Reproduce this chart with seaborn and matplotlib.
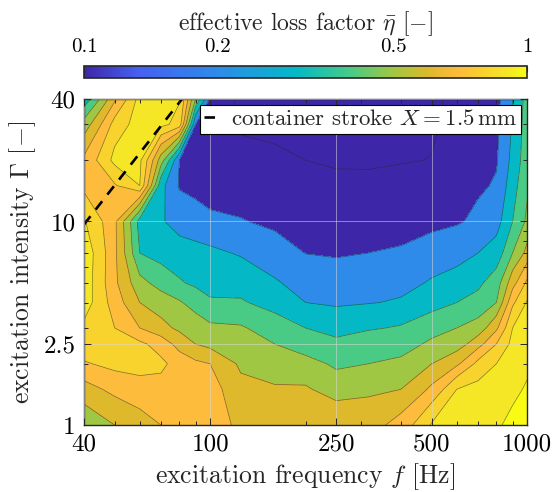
import numpy as np
import matplotlib
matplotlib.use("Agg")
import matplotlib.pyplot as plt
import seaborn as sns
from matplotlib.colors import LinearSegmentedColormap, LogNorm
from matplotlib.cm import ScalarMappable
from matplotlib.ticker import FixedLocator, NullFormatter, LogLocator

# measurement grid
freq = [40, 50, 60, 70, 80, 90, 100, 125, 160, 200, 250, 315, 400, 500, 600, 700, 800, 900, 1000]
gamma = [1, 1.5, 2, 2.5, 3, 4, 5, 7, 10, 15, 20, 30, 40]

# effective loss factor, one list per frequency (gamma from 1 up to 40)
eta_f40 = [0.53, 0.66, 0.79, 0.86, 0.88, 0.95, 0.96, 0.97, 0.91, 0.77, 0.72, 0.54, 0.33]
eta_f50 = [0.60, 0.73, 0.83, 0.85, 0.80, 0.75, 0.72, 0.72, 0.72, 0.79, 0.93, 0.84, 0.68]
eta_f60 = [0.66, 0.76, 0.84, 0.82, 0.70, 0.60, 0.53, 0.40, 0.36, 0.90, 0.92, 0.95, 0.94]
eta_f70 = [0.70, 0.77, 0.82, 0.76, 0.63, 0.55, 0.46, 0.36, 0.31, 0.33, 0.55, 0.93, 0.95]
eta_f80 = [0.73, 0.76, 0.76, 0.66, 0.58, 0.51, 0.41, 0.34, 0.26, 0.19, 0.20, 0.86, 0.91]
eta_f90 = [0.74, 0.75, 0.72, 0.60, 0.55, 0.46, 0.38, 0.33, 0.24, 0.17, 0.15, 0.20, 0.50]
eta_f100 = [0.74, 0.74, 0.70, 0.57, 0.52, 0.41, 0.37, 0.32, 0.22, 0.15, 0.12, 0.11, 0.19]
eta_f125 = [0.68, 0.63, 0.58, 0.54, 0.51, 0.41, 0.36, 0.29, 0.205, 0.15, 0.12, 0.09, 0.08]
eta_f160 = [0.66, 0.61, 0.55, 0.50, 0.45, 0.36, 0.31, 0.24, 0.18, 0.14, 0.11, 0.085, 0.07]
eta_f200 = [0.66, 0.61, 0.54, 0.44, 0.40, 0.30, 0.26, 0.198, 0.16, 0.125, 0.10, 0.075, 0.07]
eta_f250 = [0.67, 0.56, 0.48, 0.42, 0.37, 0.285, 0.245, 0.19, 0.155, 0.117, 0.09, 0.07, 0.07]
eta_f315 = [0.66, 0.58, 0.50, 0.45, 0.39, 0.295, 0.26, 0.20, 0.155, 0.115, 0.09, 0.07, 0.07]
eta_f400 = [0.74, 0.60, 0.52, 0.46, 0.41, 0.31, 0.27, 0.21, 0.16, 0.125, 0.095, 0.08, 0.08]
eta_f500 = [0.91, 0.72, 0.60, 0.52, 0.46, 0.36, 0.31, 0.24, 0.175, 0.13, 0.102, 0.088, 0.085]
eta_f600 = [0.95, 0.90, 0.68, 0.55, 0.50, 0.40, 0.34, 0.26, 0.19, 0.16, 0.14, 0.13, 0.12]
eta_f700 = [0.96, 0.93, 0.83, 0.66, 0.54, 0.43, 0.38, 0.30, 0.22, 0.185, 0.17, 0.15, 0.14]
eta_f800 = [0.99, 0.95, 0.90, 0.80, 0.68, 0.50, 0.45, 0.34, 0.26, 0.21, 0.19, 0.18, 0.17]
eta_f900 = [1.02, 0.98, 0.95, 0.93, 0.90, 0.78, 0.66, 0.50, 0.40, 0.36, 0.33, 0.31, 0.30]
eta_f1000 = [1.06, 1.01, 0.98, 0.96, 0.94, 0.91, 0.82, 0.63, 0.52, 0.48, 0.46, 0.45, 0.44]

# container stroke line X = 1.5 mm (end points)
stroke_f = [40, 81.6]
stroke_gamma = [9.66, 40]

cbar_ticks = [0.1, 0.2, 0.5, 1]
cbar_ticklabels = ["0.1", "0.2", "0.5", "1"]
cbar_minor = [0.3, 0.4, 0.6, 0.7, 0.8, 0.9]
x_ticks = [40, 100, 250, 500, 1000]
y_ticks = [1, 2.5, 10, 40]

sns.set_style("ticks")
plt.rcParams.update({
    "font.family": ["cmr10"],
    "mathtext.fontset": "cm",
    "axes.formatter.use_mathtext": True,
    "axes.unicode_minus": False,
})

# parula-like map, anchored on the log positions of 0.1 ... 1
parula = LinearSegmentedColormap.from_list("parula_like", [
    (0.000, "#3E26A8"),
    (0.120, "#4660F0"),
    (0.301, "#2E8BEA"),
    (0.477, "#03B9C6"),
    (0.602, "#48CB86"),
    (0.699, "#A1C742"),
    (0.778, "#DDB92B"),
    (0.845, "#FDBB3C"),
    (0.903, "#F8D12D"),
    (0.954, "#F5E626"),
    (1.000, "#F9FB14"),
])
norm = LogNorm(vmin=0.1, vmax=1.0)

eta = np.column_stack([eta_f40, eta_f50, eta_f60, eta_f70, eta_f80, eta_f90, eta_f100,
                       eta_f125, eta_f160, eta_f200, eta_f250, eta_f315, eta_f400,
                       eta_f500, eta_f600, eta_f700, eta_f800, eta_f900, eta_f1000])
F, G = np.meshgrid(freq, gamma)

line_levels = [0.1, 0.2, 0.3, 0.4, 0.5, 0.6, 0.7, 0.8, 0.9, 1.0]
fill_levels = [0.0] + line_levels + [2.0]
band_colors = [parula(0.0)] + [parula(norm(v)) for v in line_levels]

fig = plt.figure(figsize=(5.56, 4.92), dpi=100)
ax = fig.add_axes([0.151, 0.136, 0.797, 0.663])
cax = fig.add_axes([0.151, 0.8415, 0.797, 0.0244])

ax.contourf(F, G, eta, levels=fill_levels, colors=band_colors)
ax.contour(F, G, eta, levels=line_levels, colors="0.15", linewidths=0.5, alpha=0.6)

sns.lineplot(x=stroke_f, y=stroke_gamma, ax=ax, color="k", linewidth=1.9,
             linestyle=(0, (4, 3.2)), legend=False)

ax.set_xscale("log")
ax.set_yscale("log")
ax.set_xlim(40, 1000)
ax.set_ylim(1, 40)
ax.set_xticks(x_ticks, [str(t) for t in x_ticks])
ax.set_yticks(y_ticks, ["1", "2.5", "10", "40"])
ax.xaxis.set_minor_locator(LogLocator(subs=np.arange(2, 10)))
ax.yaxis.set_minor_locator(LogLocator(subs=np.arange(2, 10)))
ax.xaxis.set_minor_formatter(NullFormatter())
ax.yaxis.set_minor_formatter(NullFormatter())
ax.tick_params(which="both", direction="in", top=True, right=True,
               labelsize=18, colors="0.15", width=0.7)
ax.tick_params(which="major", length=5, pad=6)
ax.tick_params(which="minor", length=3)
ax.tick_params(labelcolor="k")
for s in ax.spines.values():
    s.set_linewidth(1.0)
    s.set_color("0.15")
ax.set_axisbelow(False)
ax.grid(which="major", color="0.85", alpha=0.55, linewidth=0.7)

ax.set_xlabel(r"excitation frequency $f$ [Hz]", fontsize=18.5, labelpad=4)
ax.set_ylabel(r"excitation intensity $\Gamma$ [$-$]", fontsize=18.5, labelpad=4)

leg = ax.legend(handles=[ax.lines[-1]], labels=[r"container stroke $X = 1.5\,\mathrm{mm}$"],
                loc="upper right", fontsize=16.5, frameon=True, fancybox=False,
                framealpha=1, edgecolor="k", borderpad=0.2, handlelength=0.55,
                handletextpad=0.6, borderaxespad=0.25)
leg.get_frame().set_linewidth(0.8)

sm = ScalarMappable(norm=norm, cmap=parula)
cb = fig.colorbar(sm, cax=cax, orientation="horizontal")
cax.xaxis.set_ticks_position("top")
cax.xaxis.set_label_position("top")
cb.set_ticks(cbar_ticks)
cb.set_ticklabels(cbar_ticklabels)
cax.xaxis.set_minor_locator(FixedLocator(cbar_minor))
cax.xaxis.set_minor_formatter(NullFormatter())
cax.tick_params(which="both", direction="in", top=True, bottom=False, labelsize=15,
                pad=7, colors="0.15", labelcolor="k")
cax.tick_params(which="major", length=4)
cax.tick_params(which="minor", length=2.5)
cb.set_label(r"effective loss factor $\bar{\eta}$ [$-$]", fontsize=17, labelpad=6)
cb.outline.set_linewidth(1.2)
cb.outline.set_edgecolor("0.15")

fig.savefig("out.png", dpi=100)
